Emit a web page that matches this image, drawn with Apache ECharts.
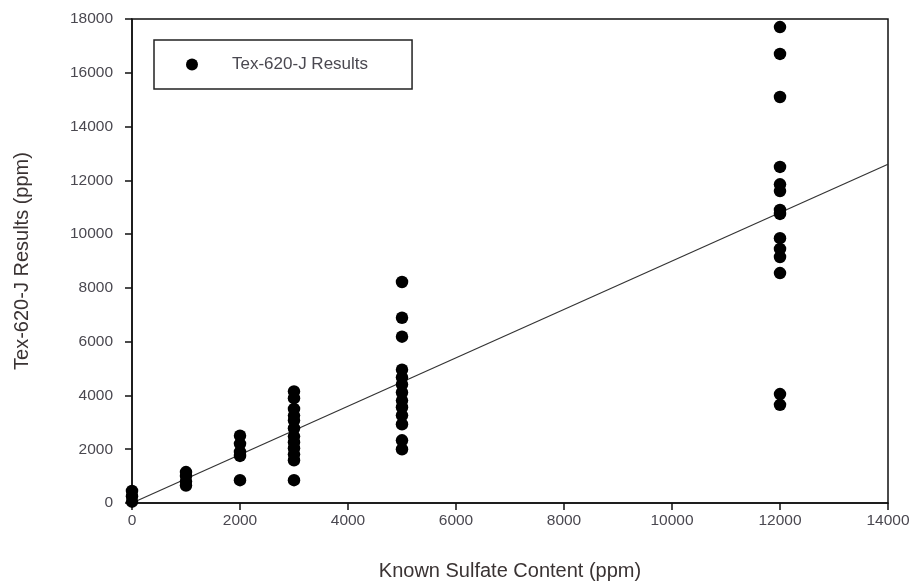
<!DOCTYPE html>
<html>
<head>
<meta charset="utf-8">
<script src="https://cdn.jsdelivr.net/npm/echarts@6/dist/echarts.min.js"></script>
<style>html,body{margin:0;padding:0;background:#fff}#c{width:919px;height:586px}</style>
</head>
<body>
<div id="c"></div>
<script>
const xTicks = [0, 2000, 4000, 6000, 8000, 10000, 12000, 14000];
const yTicks = [0, 2000, 4000, 6000, 8000, 10000, 12000, 14000, 16000, 18000];
const known0 = [450, 250, 50];
const known1000 = [1150, 1000, 800, 650];
const known2000 = [2500, 2200, 1900, 1750, 850];
const known3000 = [4150, 3900, 3500, 3250, 3070, 2780, 2480, 2260, 2040, 1810, 1590, 850];
const known5000 = [8220, 6890, 6185, 4960, 4670, 4410, 4110, 3810, 3560, 3260, 2930, 2330, 2000];
const known12000 = [17700, 16700, 15100, 12500, 11850, 11600, 10900, 10750, 9850, 9450, 9150, 8550, 4050, 3650];
const fitLine = [[0, 0], [14000, 12600]];

const groups = [[0, known0], [1000, known1000], [2000, known2000], [3000, known3000], [5000, known5000], [12000, known12000]];
const pts = [];
groups.forEach(g => g[1].forEach(v => pts.push([g[0], v])));

const chart = echarts.init(document.getElementById('c'));
const font = 'Liberation Sans, Arial, sans-serif';
const labelStyle = { color: '#4a4850', fontSize: 15.5, fontFamily: font };
chart.setOption({
  animation: false,
  grid: { left: 132, right: 31, top: 19, bottom: 83, show: true, borderColor: '#111', borderWidth: 1.5 },
  legend: {
    left: 154, top: 40,
    padding: [16, 44, 16, 32],
    borderColor: '#222', borderWidth: 1.5,
    itemWidth: 12, itemHeight: 12,
    icon: 'circle',
    textStyle: Object.assign({}, labelStyle, { fontSize: 17, padding: [0, 0, 0, 29] }),
    data: ['Tex-620-J Results']
  },
  xAxis: {
    type: 'value', min: 0, max: 14000, interval: 2000,
    name: 'Known Sulfate Content (ppm)', nameLocation: 'middle', nameGap: 58,
    nameTextStyle: { color: '#3a3333', fontSize: 20, fontFamily: font },
    axisLine: { lineStyle: { color: '#111', width: 1.5 } },
    axisTick: { show: true, inside: false, length: 7, lineStyle: { color: '#111', width: 1.5 } },
    axisLabel: Object.assign({ margin: 10, formatter: v => xTicks.includes(v) ? String(v) : '' }, labelStyle),
    splitLine: { show: false }
  },
  yAxis: {
    type: 'value', min: 0, max: 18000, interval: 2000,
    name: 'Tex-620-J Results (ppm)', nameLocation: 'middle', nameGap: 100,
    nameTextStyle: { color: '#3a3333', fontSize: 20, fontFamily: font },
    axisLine: { lineStyle: { color: '#111', width: 1.5 } },
    axisTick: { show: true, inside: false, length: 7, lineStyle: { color: '#111', width: 1.5 } },
    axisLabel: Object.assign({ margin: 19, formatter: v => yTicks.includes(v) ? String(v) : '' }, labelStyle),
    splitLine: { show: false }
  },
  series: [
    {
      name: 'fit', type: 'line', data: fitLine, showSymbol: false, symbol: 'none',
      lineStyle: { color: '#333', width: 1.2 }, z: 1, silent: true
    },
    {
      name: 'Tex-620-J Results', type: 'scatter', data: pts, symbol: 'circle', symbolSize: 12.5,
      itemStyle: { color: '#000', opacity: 1 }, z: 2
    }
  ]
});
</script>
</body>
</html>
